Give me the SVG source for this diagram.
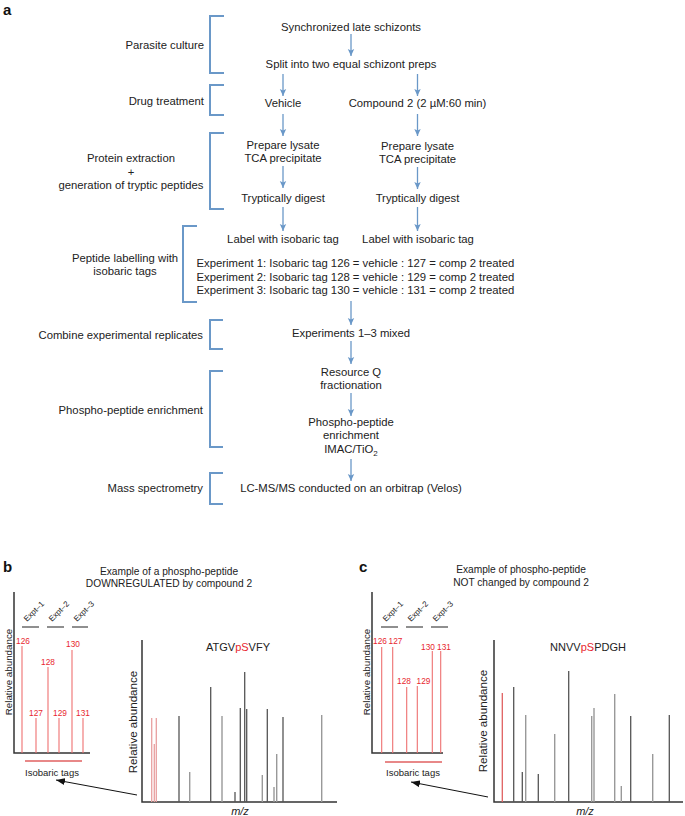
<svg xmlns="http://www.w3.org/2000/svg" width="685" height="816" viewBox="0 0 685 816">
<defs>
<style>
text{font-family:"Liberation Sans",Arial,sans-serif;fill:#222}
.f{font-size:11.3px}
.m{text-anchor:middle}
.e{text-anchor:end}
.br{fill:none;stroke:#6a98c8;stroke-width:2}
.ar{stroke:#6a98c8;stroke-width:1.3;fill:none;marker-end:url(#ah)}
.lbl{font-size:15px;font-weight:bold;fill:#111}
.ttl{font-size:10.2px;text-anchor:middle}
.ax{stroke:#333;stroke-width:1.5;fill:none}
.rp{stroke:#ee7070;stroke-width:1.1}
.rt{font-size:8.3px;fill:#e8262e;text-anchor:middle}
.dk{stroke:#555;stroke-width:1.3}
.gy{stroke:#999;stroke-width:1.4}
.lr{stroke:#e8a0a0;stroke-width:1.3}
.ex{font-size:8px}
.exl{stroke:#444;stroke-width:1.2}
.red{fill:#e8262e}
</style>
<marker id="ah" markerWidth="8" markerHeight="8" refX="7" refY="4" orient="auto" markerUnits="userSpaceOnUse">
<path d="M0,0.8 L7,4 L0,7.2 L1.5,4 z" fill="#6a98c8"/>
</marker>
<marker id="bh" markerWidth="10" markerHeight="8" refX="9" refY="4" orient="auto" markerUnits="userSpaceOnUse">
<path d="M0,0.5 L9,4 L0,7.5 z" fill="#111"/>
</marker>
</defs>
<rect width="685" height="816" fill="#fff"/>

<text class="lbl" x="3" y="15">a</text>

<g id="brackets">
<path class="br" d="M224,16 H210 V73 H224"/>
<path class="br" d="M224,85 H210 V115 H224"/>
<path class="br" d="M224,133 H210 V209 H224"/>
<path class="br" d="M197,226 H183 V302 H197"/>
<path class="br" d="M223,320 H210 V349 H223"/>
<path class="br" d="M223,371 H210 V447 H223"/>
<path class="br" d="M223,473 H210 V504 H223"/>
</g>

<g id="stage-labels">
<text id="lab-parasite" class="f e" x="204" y="49">Parasite culture</text>
<text id="lab-drug" class="f e" x="204" y="105">Drug treatment</text>
<text id="lab-protein" class="f m" x="131" y="162">Protein extraction<tspan x="131" y="176">+</tspan><tspan x="131" y="189">generation of tryptic peptides</tspan></text>
<text id="lab-peptide" class="f m" x="125" y="262">Peptide labelling with<tspan x="125" y="275">isobaric tags</tspan></text>
<text id="lab-combine" class="f e" x="203" y="339">Combine experimental replicates</text>
<text id="lab-phospho" class="f e" x="203" y="414">Phospho-peptide enrichment</text>
<text id="lab-ms" class="f e" x="203" y="492">Mass spectrometry</text>
</g>

<g id="connectors">
<line class="ar" x1="351" y1="34" x2="351" y2="56"/>
<line class="ar" x1="283" y1="74" x2="283" y2="96"/>
<line class="ar" x1="417.5" y1="74" x2="417.5" y2="96"/>
<line class="ar" x1="283" y1="114" x2="283" y2="136"/>
<line class="ar" x1="417.5" y1="114" x2="417.5" y2="136"/>
<line class="ar" x1="283" y1="166" x2="283" y2="188"/>
<line class="ar" x1="417.5" y1="167" x2="417.5" y2="189"/>
<line class="ar" x1="283" y1="207" x2="283" y2="231"/>
<line class="ar" x1="417.5" y1="207" x2="417.5" y2="231"/>
<line class="ar" x1="351" y1="301" x2="351" y2="325"/>
<line class="ar" x1="351" y1="341" x2="351" y2="364"/>
<line class="ar" x1="351" y1="393" x2="351" y2="416"/>
<line class="ar" x1="351" y1="459" x2="351" y2="481"/>
<line x1="137" y1="795" x2="56" y2="780" stroke="#111" stroke-width="1" marker-end="url(#bh)"/>
<line x1="488" y1="797" x2="411" y2="782" stroke="#111" stroke-width="1" marker-end="url(#bh)"/>
</g>

<g id="n-sync"><text class="f m" x="351" y="31">Synchronized late schizonts</text></g>
<g id="n-split"><text class="f m" x="351" y="68">Split into two equal schizont preps</text></g>
<g id="n-vehicle"><text class="f m" x="283" y="107">Vehicle</text></g>
<g id="n-compound"><text class="f m" x="417.5" y="107">Compound 2 (2 µM:60 min)</text></g>
<g id="n-lysate-l"><text class="f m" x="283" y="149">Prepare lysate<tspan x="283" y="162">TCA precipitate</tspan></text></g>
<g id="n-lysate-r"><text class="f m" x="417.5" y="150">Prepare lysate<tspan x="417.5" y="163">TCA precipitate</tspan></text></g>
<g id="n-digest-l"><text class="f m" x="283" y="202">Tryptically digest</text></g>
<g id="n-digest-r"><text class="f m" x="417.5" y="202">Tryptically digest</text></g>
<g id="n-label-l"><text class="f m" x="283" y="243">Label with isobaric tag</text></g>
<g id="n-label-r"><text class="f m" x="418" y="243">Label with isobaric tag</text></g>
<g id="n-experiments">
<text class="f" x="196.5" y="267">Experiment 1: Isobaric tag 126 = vehicle : 127 = comp 2 treated</text>
<text class="f" x="196.5" y="280.5">Experiment 2: Isobaric tag 128 = vehicle : 129 = comp 2 treated</text>
<text class="f" x="196.5" y="294">Experiment 3: Isobaric tag 130 = vehicle : 131 = comp 2 treated</text>
</g>
<g id="n-mixed"><text class="f m" x="351" y="337">Experiments 1–3 mixed</text></g>
<g id="n-resource"><text class="f m" x="351" y="376">Resource Q<tspan x="351" y="389">fractionation</tspan></text></g>
<g id="n-enrich"><text class="f m" x="351" y="426">Phospho-peptide<tspan x="351" y="439">enrichment</tspan><tspan x="351" y="453">IMAC/TiO</tspan><tspan font-size="8" dy="3">2</tspan></text></g>
<g id="n-lcms"><text class="f m" x="351" y="492">LC-MS/MS conducted on an orbitrap (Velos)</text></g>

<!-- Panel b -->
<g id="panel-b">
<text class="lbl" x="3" y="572">b</text>
<text class="ttl" x="169" y="575">Example of a phospho-peptide<tspan x="169" y="587">DOWNREGULATED by compound 2</tspan></text>
<g id="b-tags">
<path class="ax" d="M14,592 V753 H90"/>
<line class="exl" x1="22" y1="627" x2="39" y2="627"/>
<line class="exl" x1="47" y1="627" x2="64" y2="627"/>
<line class="exl" x1="72" y1="627" x2="88" y2="627"/>
<text class="ex" transform="translate(27,622) rotate(-45)">Expt–1</text>
<text class="ex" transform="translate(52,622) rotate(-45)">Expt–2</text>
<text class="ex" transform="translate(77,622) rotate(-45)">Expt–3</text>
<line class="rp" x1="22" y1="646" x2="22" y2="753"/>
<line class="rp" x1="36" y1="718" x2="36" y2="753"/>
<line class="rp" x1="48" y1="667" x2="48" y2="753"/>
<line class="rp" x1="59" y1="718" x2="59" y2="753"/>
<line class="rp" x1="72" y1="650" x2="72" y2="753"/>
<line class="rp" x1="83" y1="718" x2="83" y2="753"/>
<text class="rt" x="23" y="643.5">126</text>
<text class="rt" x="36" y="716">127</text>
<text class="rt" x="48" y="664.5">128</text>
<text class="rt" x="60" y="716">129</text>
<text class="rt" x="73" y="647">130</text>
<text class="rt" x="83" y="716">131</text>
<line x1="25" y1="761" x2="82" y2="761" stroke="#e06060" stroke-width="1.5"/>
<text x="52" y="775.5" font-size="9.5" text-anchor="middle">Isobaric tags</text>
<text x="11.5" y="672" font-size="9.8" text-anchor="middle" transform="rotate(-90 11.5 672)">Relative abundance</text>
</g>
<g id="b-spectrum">
<path class="ax" d="M142,640 V802 H337"/>
<text x="238" y="651" font-size="11" text-anchor="middle">ATGV<tspan class="red">pS</tspan>VFY</text>
<text x="240" y="815" font-size="11" font-style="italic" text-anchor="middle">m/z</text>
<text x="137" y="722" font-size="11.6" text-anchor="middle" transform="rotate(-90 137 722)">Relative abundance</text>
<line class="lr" x1="151.7" y1="718" x2="151.7" y2="802"/>
<line class="lr" x1="154.3" y1="744" x2="154.3" y2="802"/>
<line class="lr" x1="156.3" y1="718" x2="156.3" y2="802"/>
<line class="dk" x1="179" y1="716" x2="179" y2="802"/>
<line class="gy" x1="189.7" y1="772" x2="189.7" y2="802"/>
<line class="dk" x1="210.7" y1="687" x2="210.7" y2="802"/>
<line class="gy" x1="222" y1="716" x2="222" y2="802"/>
<line class="dk" x1="235" y1="792" x2="235" y2="802"/>
<line class="dk" x1="240.3" y1="708" x2="240.3" y2="802"/>
<line class="dk" x1="244.7" y1="672" x2="244.7" y2="802"/>
<line class="dk" x1="246.7" y1="709" x2="246.7" y2="802"/>
<line class="gy" x1="262.3" y1="775" x2="262.3" y2="802"/>
<line class="dk" x1="267.3" y1="709" x2="267.3" y2="802"/>
<line class="gy" x1="274" y1="787" x2="274" y2="802"/>
<line class="gy" x1="276.7" y1="754" x2="276.7" y2="802"/>
<line class="dk" x1="283" y1="717" x2="283" y2="802"/>
<line class="gy" x1="321.7" y1="715" x2="321.7" y2="802"/>
</g>
</g>

<!-- Panel c -->
<g id="panel-c">
<text class="lbl" x="359" y="572">c</text>
<text class="ttl" x="521" y="573">Example of phospho-peptide<tspan x="521" y="586">NOT changed by compound 2</tspan></text>
<g id="c-tags">
<path class="ax" d="M372,592 V753 H443"/>
<line class="exl" x1="381" y1="627" x2="398" y2="627"/>
<line class="exl" x1="406" y1="627" x2="423" y2="627"/>
<line class="exl" x1="431" y1="627" x2="448" y2="627"/>
<text class="ex" transform="translate(386,622) rotate(-45)">Expt–1</text>
<text class="ex" transform="translate(411,622) rotate(-45)">Expt–2</text>
<text class="ex" transform="translate(436,622) rotate(-45)">Expt–3</text>
<line class="rp" x1="381.7" y1="647" x2="381.7" y2="753"/>
<line class="rp" x1="392.7" y1="647" x2="392.7" y2="753"/>
<line class="rp" x1="406.7" y1="687" x2="406.7" y2="753"/>
<line class="rp" x1="417.3" y1="686" x2="417.3" y2="753"/>
<line class="rp" x1="432.3" y1="651" x2="432.3" y2="753"/>
<line class="rp" x1="440.7" y1="651" x2="440.7" y2="753"/>
<text class="rt" x="380" y="643.5">126</text>
<text class="rt" x="395.5" y="643.5">127</text>
<text class="rt" x="404" y="683.5">128</text>
<text class="rt" x="423.5" y="683.5">129</text>
<text class="rt" x="428" y="650">130</text>
<text class="rt" x="444" y="650">131</text>
<line x1="385" y1="762" x2="442" y2="762" stroke="#e06060" stroke-width="1.5"/>
<text x="413" y="775.5" font-size="9.5" text-anchor="middle">Isobaric tags</text>
<text x="369.5" y="672" font-size="9.8" text-anchor="middle" transform="rotate(-90 369.5 672)">Relative abundance</text>
</g>
<g id="c-spectrum">
<path class="ax" d="M494,640 V802 H683"/>
<text x="588" y="651" font-size="11" text-anchor="middle">NNVV<tspan class="red">pS</tspan>PDGH</text>
<text x="585" y="815" font-size="11" font-style="italic" text-anchor="middle">m/z</text>
<text x="487" y="721" font-size="11.6" text-anchor="middle" transform="rotate(-90 487 721)">Relative abundance</text>
<line class="lr" x1="502.3" y1="693" x2="502.3" y2="802" style="stroke:#e06060"/>
<line class="dk" x1="513.7" y1="687" x2="513.7" y2="802"/>
<line class="dk" x1="522.3" y1="772" x2="522.3" y2="802"/>
<line class="gy" x1="525.7" y1="715" x2="525.7" y2="802"/>
<line class="dk" x1="538.3" y1="774" x2="538.3" y2="802"/>
<line class="gy" x1="554.7" y1="734" x2="554.7" y2="802"/>
<line class="dk" x1="568.7" y1="671" x2="568.7" y2="802"/>
<line class="gy" x1="591.7" y1="716" x2="591.7" y2="802"/>
<line class="gy" x1="594" y1="708" x2="594" y2="802"/>
<line class="gy" x1="614.7" y1="694" x2="614.7" y2="802"/>
<line class="gy" x1="621.3" y1="786" x2="621.3" y2="802"/>
<line class="dk" x1="630.7" y1="716" x2="630.7" y2="802"/>
<line class="gy" x1="652.7" y1="754" x2="652.7" y2="802"/>
<line class="dk" x1="669.3" y1="715" x2="669.3" y2="802"/>
</g>
</g>
</svg>
